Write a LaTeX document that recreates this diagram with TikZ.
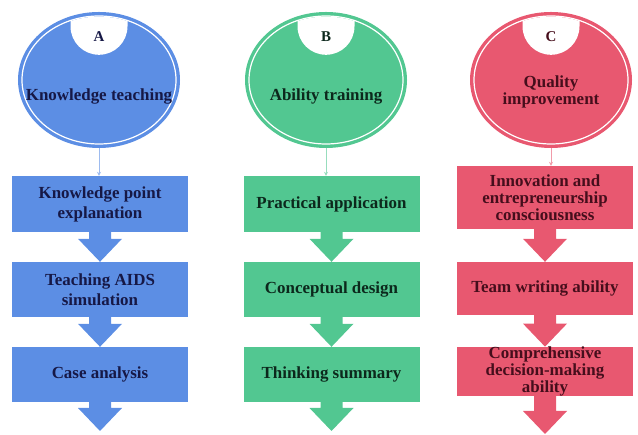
\documentclass[tikz,border=0pt]{standalone}
\usepackage{fontspec}
\setmainfont{Liberation Serif}
\usetikzlibrary{positioning, shapes, arrows.meta, calc}

\definecolor{blueA}{RGB}{92,142,228}
\definecolor{greenB}{RGB}{82,199,145}
\definecolor{pinkC}{RGB}{232,88,112}
\definecolor{inkA}{RGB}{22,24,70}
\definecolor{inkB}{RGB}{12,40,28}
\definecolor{inkC}{RGB}{70,14,28}

\tikzset{
  stage/.style={rectangle, minimum width=176bp, inner sep=0pt, align=center,
    font=\fontsize{17}{20}\selectfont\bfseries},
  colA/.style={stage, fill=blueA, text=inkA},
  colB/.style={stage, fill=greenB, text=inkB},
  colC/.style={stage, fill=pinkC, text=inkC, font=\fontsize{17}{17}\selectfont\bfseries},
  head/.style={ellipse, inner sep=0pt, minimum width=162bp, minimum height=136bp},
  title/.style={align=center, font=\fontsize{17}{17}\selectfont\bfseries},
  link/.style={-{Stealth[length=4bp,width=4bp]}, line width=0.8bp},
}

% oval with white ring and the lettered tab on top
% #1 name, #2 centre, #3 fill colour, #4 letter, #5 ink
\newcommand{\headoval}[5]{%
  \node[head, fill=#3] (#1) at (#2) {};
  \draw[white, line width=1.2bp] (#1.center) ellipse [x radius=77bp, y radius=64bp];
  \begin{scope}
    \clip (#1.center) ellipse [x radius=76.4bp, y radius=63.4bp];
    \fill[white] ([xshift=-28.5bp]#1.north) -- ++(0,-14.5)
      arc[start angle=180, end angle=360, radius=28.5bp] -- ([xshift=28.5bp]#1.north) -- cycle;
  \end{scope}
  \node[font=\fontsize{15}{15}\selectfont\bfseries, text=#5] (#1tab) at ([yshift=-25bp]#1.north) {#4};
}

% fat down arrow from the bottom of one box to a point
\newcommand{\stagearrow}[3]{%
  \fill[#1] ([xshift=-11bp,yshift=1bp]#2.south) -- ([xshift=-11bp,yshift=23bp]#3)
    -- ([xshift=-22bp,yshift=23bp]#3) -- (#3) -- ([xshift=22bp,yshift=23bp]#3)
    -- ([xshift=11bp,yshift=23bp]#3) -- ([xshift=11bp,yshift=1bp]#2.south) -- cycle;
}

\begin{document}
\begin{tikzpicture}[x=1bp, y=1bp]
  \useasboundingbox (0,0) rectangle (638,435);

  % Heads
  \headoval{headA}{99,355}{blueA}{A}{inkA}
  \headoval{headB}{326,355}{greenB}{B}{inkB}
  \headoval{headC}{551,355}{pinkC}{C}{inkC}

  \node[title, text=inkA] (titleA) at ([yshift=-17bp]headA.center) {Knowledge teaching};
  \node[title, text=inkB] (titleB) at ([yshift=-17bp]headB.center) {Ability training};
  \node[title, text=inkC] (titleC) at ([yshift=-12bp]headC.center) {Quality\\improvement};

  % Column A
  \node[colA, minimum height=56bp] (a1) at (100,231) {Knowledge point\\explanation};
  \node[colA, minimum height=55bp] (a2) at (100,145.5) {Teaching AIDS\\simulation};
  \node[colA, minimum height=55bp] (a3) at (100,60.5) {Case analysis};
  \coordinate (a4) at (100,4);

  % Column B
  \node[colB, minimum height=56bp] (b1) at (331.5,231) {Practical application};
  \node[colB, minimum height=55bp] (b2) at (331.5,145.5) {Conceptual design};
  \node[colB, minimum height=55bp] (b3) at (331.5,60.5) {Thinking summary};
  \coordinate (b4) at (331.5,4);

  % Column C
  \node[colC, minimum height=63bp] (c1) at (545,237.5) {Innovation and\\entrepreneurship\\consciousness};
  \node[colC, minimum height=53bp] (c2) at (545,146.5) {Team writing ability};
  \node[colC, minimum height=49bp] (c3) at (545,63.5) {Comprehensive\\decision-making\\ability};
  \coordinate (c4) at (545,1);

  % Arrows
  \draw[link, blueA!60] (headA.south) -- (headA.south |- a1.north);
  \draw[link, greenB!60] (headB.south) -- (headB.south |- b1.north);
  \draw[link, pinkC!60] (headC.south) -- (headC.south |- c1.north);

  \stagearrow{blueA}{a1}{a2.north}
  \stagearrow{blueA}{a2}{a3.north}
  \stagearrow{blueA}{a3}{a4}
  \stagearrow{greenB}{b1}{b2.north}
  \stagearrow{greenB}{b2}{b3.north}
  \stagearrow{greenB}{b3}{b4}
  \stagearrow{pinkC}{c1}{c2.north}
  \stagearrow{pinkC}{c2}{c3.north}
  \stagearrow{pinkC}{c3}{c4}
\end{tikzpicture}
\end{document}
